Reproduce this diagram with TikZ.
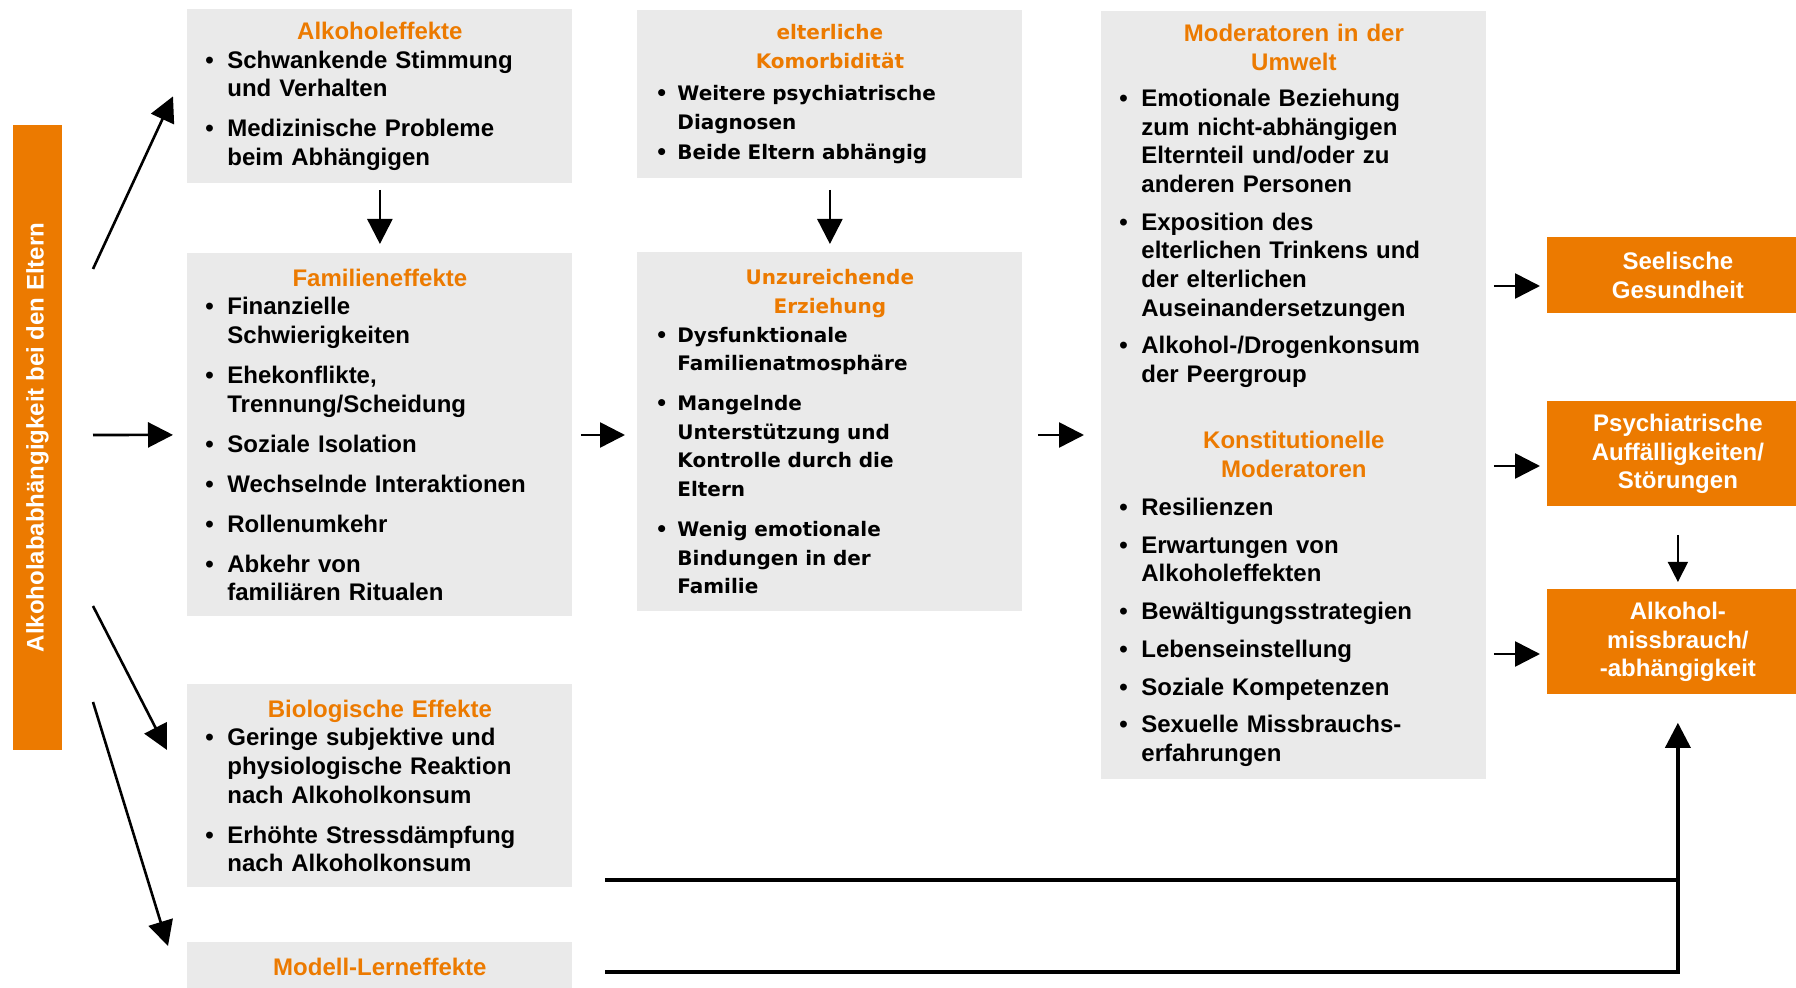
\documentclass[tikz,border=0pt]{standalone}
\usepackage{fontspec}
\setmainfont{Liberation Sans}
\newfontfamily\wideface{DejaVu Sans}
\usetikzlibrary{arrows.meta}
\definecolor{hdorange}{RGB}{236,122,0}
\definecolor{boxgray}{RGB}{234,234,234}
\setlength{\parindent}{0pt}
\newcommand{\boxhead}[1]{{\centering\color{hdorange}#1\par}}
\newcommand{\bitem}[2][0pt]{\par\vspace{#1}\hangindent=11pt\hangafter=1\noindent
  \makebox[11pt][l]{\textbullet}{\let\\\newline #2}\par}
\tikzset{
  panel/.style={fill=boxgray, anchor=north west, minimum width=192.5pt, text width=174.5pt,
    inner xsep=9pt, inner ysep=0pt, align=left, font=\bfseries\fontsize{12}{14.3}\selectfont},
  widepanel/.style={panel, font=\wideface\bfseries\fontsize{10}{14.3}\selectfont},
  outbox/.style={fill=hdorange, text=white, anchor=north west, minimum width=130.5pt,
    inner sep=0pt, align=center, font=\bfseries\fontsize{12}{14.3}\selectfont},
  arr/.style={-{Triangle[length=12.5pt,width=12.5pt]}, line width=1.3pt},
  thinarr/.style={-{Triangle[length=10pt,width=10pt]}, line width=0.7pt},
  feed/.style={line width=1.8pt}
}
\begin{document}
\begin{tikzpicture}[x=0.5pt, y=-0.5pt]
\useasboundingbox (0,0) rectangle (1796,988);
\node[fill=hdorange, text=white, rotate=90, minimum width=312.5pt, minimum height=24.75pt,
  inner sep=0pt, font=\bfseries\fontsize{12}{14.3}\selectfont] (eltern) at (37.5,437.5)
  {Alkoholababhängigkeit bei den Eltern};

\node[panel, minimum height=87pt] (alkE) at (187,9) {\boxhead{Alkoholeffekte}
  \bitem{Schwankende Stimmung\\und Verhalten}
  \bitem[5.7pt]{Medizinische Probleme\\beim Abhängigen}};
\node[panel, minimum height=181.5pt] (famE) at (187,253) {\boxhead{Familieneffekte}
  \bitem{Finanzielle\\Schwierigkeiten}
  \bitem[5.7pt]{Ehekonflikte,\\Trennung/Scheidung}
  \bitem[5.7pt]{Soziale Isolation}
  \bitem[5.7pt]{Wechselnde Interaktionen}
  \bitem[5.7pt]{Rollenumkehr}
  \bitem[5.7pt]{Abkehr von\\familiären Ritualen}};
\node[panel, minimum height=101.5pt] (bioE) at (187,684) {\boxhead{Biologische Effekte}
  \bitem{Geringe subjektive und\\physiologische Reaktion\\nach Alkoholkonsum}
  \bitem[5.7pt]{Erhöhte Stressdämpfung\\nach Alkoholkonsum}};
\node[panel, minimum height=25pt] (modE) at (187,942) {\boxhead{Modell-Lerneffekte}};

\node[widepanel, minimum height=84pt] (komE) at (637,10) {\boxhead{elterliche\\Komorbidität}
  \bitem[1.7pt]{Weitere psychiatrische\\Diagnosen}
  \bitem[1.1pt]{Beide Eltern abhängig}};
\node[widepanel, minimum height=179.5pt] (erzE) at (637,252) {\boxhead{Unzureichende\\Erziehung}
  \bitem{Dysfunktionale\\Familienatmosphäre}
  \bitem[5.7pt]{Mangelnde\\Unterstützung und\\Kontrolle durch die\\Eltern}
  \bitem[5.7pt]{Wenig emotionale\\Bindungen in der\\Familie}};

\node[panel, minimum height=384pt] (mods) at (1101,11) {\boxhead{Moderatoren in der\\Umwelt}
  \bitem[4pt]{Emotionale Beziehung\\zum nicht-abhängigen\\Elternteil und/oder zu\\anderen Personen}
  \bitem[4.6pt]{Exposition des\\elterlichen Trinkens und\\der elterlichen\\Auseinandersetzungen}
  \bitem[4.6pt]{Alkohol-/Drogenkonsum\\der Peergroup}
  \par\vspace{18.9pt}
  \boxhead{Konstitutionelle\\Moderatoren}
  \bitem[4.6pt]{Resilienzen}
  \bitem[4.6pt]{Erwartungen von\\Alkoholeffekten}
  \bitem[4.6pt]{Bewältigungsstrategien}
  \bitem[4.6pt]{Lebenseinstellung}
  \bitem[4.6pt]{Soziale Kompetenzen}
  \bitem[4.6pt]{Sexuelle Missbrauchs-\\erfahrungen}};

\node[outbox, minimum height=38pt] (seel) at (1547,237) {Seelische\\Gesundheit};
\node[outbox, minimum height=52.5pt] (psy) at (1547,401) {Psychiatrische\\Auffälligkeiten/\\Störungen};
\node[outbox, minimum height=52.5pt] (alkM) at (1547,589) {Alkohol-\\missbrauch/\\-abhängigkeit};

\coordinate (src1) at (93,269);
\coordinate (src2) at (93,435);
\coordinate (src3) at (93,606);
\coordinate (src4) at (93,702);
\coordinate (lvmid) at (0,435);
\coordinate (lvseel) at (0,286);
\coordinate (lvpsy) at (0,466);
\coordinate (lvalk) at (0,654);
\coordinate (bioout) at (605,880);
\coordinate (modout) at (605,972);

\draw[arr] (src1) -- ([xshift=-7pt]alkE.west);
\draw[arr] (src2) -- ([xshift=-7pt]famE.west);
\draw[arr] (src3) -- ([xshift=-10pt,yshift=-33pt]bioE.north west);
\draw[arr] (src4) -- ([xshift=-9.5pt,yshift=-2pt]modE.north west);
\draw[arr] ([yshift=-3pt]alkE.south) -- ([yshift=4.5pt]famE.north);
\draw[arr] ([yshift=-5.5pt]komE.south) -- ([yshift=4pt]erzE.north);
\draw[arr, shorten <=4pt, shorten >=6pt] (famE.east |- lvmid) -- (erzE.west |- lvmid);
\draw[arr, shorten <=7.5pt, shorten >=8.5pt] (erzE.east |- lvmid) -- (mods.west |- lvmid);
\draw[arr, shorten <=3.5pt, shorten >=3.5pt] (mods.east |- lvseel) -- (seel.west |- lvseel);
\draw[arr, shorten <=3.5pt, shorten >=3.5pt] (mods.east |- lvpsy) -- (psy.west |- lvpsy);
\draw[arr, shorten <=3.5pt, shorten >=3.5pt] (mods.east |- lvalk) -- (alkM.west |- lvalk);
\draw[thinarr, shorten <=14pt, shorten >=3.5pt] (psy.south) -- (alkM.north);
\draw[feed] (bioout) -- (bioout -| alkM.south);
\draw[arr, feed] (modout) -| ([yshift=-14pt]alkM.south);
\end{tikzpicture}
\end{document}
